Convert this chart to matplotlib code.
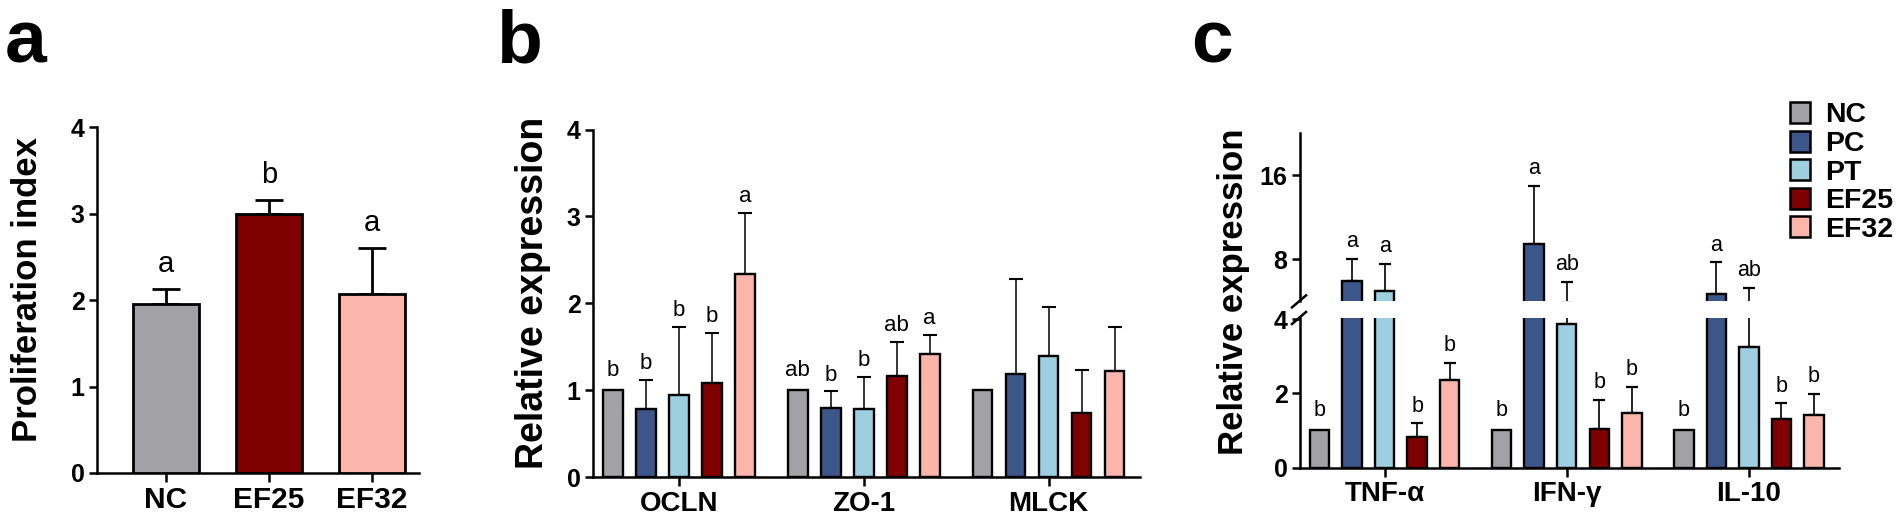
import matplotlib
matplotlib.use("Agg")
import matplotlib.pyplot as plt
from matplotlib.patches import Rectangle
from matplotlib.lines import Line2D
import numpy as np

plt.rcParams['font.family'] = ['Liberation Sans', 'DejaVu Sans']

# ---------------- data ----------------
groups = ['NC', 'PC', 'PT', 'EF25', 'EF32']
colors = ['#a2a2a6', '#3d5689', '#9dcfe1', '#800000', '#fbb5aa']

# panel a
a_groups = ['NC', 'EF25', 'EF32']
a_colors = ['#a2a2a6', '#800000', '#fbb5aa']
a_means = [1.95, 2.99, 2.07]
a_errs = [0.18, 0.17, 0.53]
a_letters = ['a', 'b', 'a']

# panel b  (genes: OCLN, ZO-1, MLCK)
b_genes = ['OCLN', 'ZO-1', 'MLCK']
b_nc = [1.00, 1.00, 1.00]
b_pc = [0.79, 0.80, 1.19]
b_pt = [0.95, 0.79, 1.40]
b_ef25 = [1.08, 1.17, 0.74]
b_ef32 = [2.34, 1.42, 1.22]
b_nc_err = [0.0, 0.0, 0.0]
b_pc_err = [0.33, 0.19, 1.09]
b_pt_err = [0.78, 0.37, 0.56]
b_ef25_err = [0.58, 0.39, 0.50]
b_ef32_err = [0.70, 0.22, 0.51]
b_nc_let = ['b', 'ab', '']
b_pc_let = ['b', 'b', '']
b_pt_let = ['b', 'b', '']
b_ef25_let = ['b', 'ab', '']
b_ef32_let = ['a', 'a', '']

# panel c  (cytokines: TNF-α, IFN-γ, IL-10)
c_genes = ['TNF-α', 'IFN-γ', 'IL-10']
c_nc = [1.00, 1.00, 1.00]
c_pc = [5.95, 9.50, 4.70]
c_pt = [4.95, 3.88, 3.25]
c_ef25 = [0.83, 1.04, 1.30]
c_ef32 = [2.37, 1.46, 1.42]
c_nc_err = [0.0, 0.0, 0.0]
c_pc_err = [2.05, 5.50, 3.00]
c_pt_err = [2.63, 1.99, 1.99]
c_ef25_err = [0.36, 0.78, 0.43]
c_ef32_err = [0.46, 0.71, 0.57]
c_nc_let = ['b', 'b', 'b']
c_pc_let = ['a', 'a', 'a']
c_pt_let = ['a', 'ab', 'ab']
c_ef25_let = ['b', 'b', 'b']
c_ef32_let = ['b', 'b', 'b']

b_means = [b_nc, b_pc, b_pt, b_ef25, b_ef32]
b_errs = [b_nc_err, b_pc_err, b_pt_err, b_ef25_err, b_ef32_err]
b_lets = [b_nc_let, b_pc_let, b_pt_let, b_ef25_let, b_ef32_let]
c_means = [c_nc, c_pc, c_pt, c_ef25, c_ef32]
c_errs = [c_nc_err, c_pc_err, c_pt_err, c_ef25_err, c_ef32_err]
c_lets = [c_nc_let, c_pc_let, c_pt_let, c_ef25_let, c_ef32_let]

# ---------------- layout helpers ----------------
W, H = 1901, 530
fig = plt.figure(figsize=(W / 100, H / 100), dpi=100)


def rect(x0, y0, x1, y1):
    return [x0 / W, 1 - y1 / H, (x1 - x0) / W, (y1 - y0) / H]


LW = 1.8
TICK_FS = 18
XLAB_FS = 20


def style_axis(ax, bottom=True):
    for s in ['top', 'right']:
        ax.spines[s].set_visible(False)
    ax.spines['left'].set_linewidth(LW)
    ax.spines['bottom'].set_linewidth(LW)
    if not bottom:
        ax.spines['bottom'].set_visible(False)
    ax.tick_params(axis='y', direction='out', length=6, width=LW, pad=3,
                   labelsize=TICK_FS)
    ax.tick_params(axis='x', direction='out', length=6.5, width=LW, pad=3,
                   labelsize=XLAB_FS)
    for lab in ax.get_yticklabels() + ax.get_xticklabels():
        lab.set_fontweight('bold')


# ---------------- panel a ----------------
axa = fig.add_axes(rect(97, 127, 419, 473))
xa = np.arange(len(a_groups))
axa.bar(xa, a_means, width=0.64, color=a_colors, edgecolor='black',
        linewidth=2.0, zorder=3)
axa.errorbar(xa, a_means, yerr=[np.zeros(3), a_errs], fmt='none',
             ecolor='black', elinewidth=2.0, capsize=10, capthick=2.0, zorder=2)
for xi, m, e, l in zip(xa, a_means, a_errs, a_letters):
    axa.annotate(l, xy=(xi, m + e), xytext=(0, 8), textcoords='offset points',
                 ha='center', va='bottom', fontsize=21)
axa.set_ylim(0, 4)
axa.set_xlim(-0.67, 2.456)
axa.set_yticks([0, 1, 2, 3, 4])
axa.set_xticks(xa)
axa.set_xticklabels(a_groups)
style_axis(axa)
for lab in axa.get_xticklabels():
    lab.set_fontsize(21.5)
fig.text(28 / W, 1 - 290 / H, 'Proliferation index', rotation=90,
         ha='center', va='center', fontsize=25, fontweight='bold')

# ---------------- grouped panel helpers ----------------
GSP = 5.6
BW = 0.6


def positions(gi, k):
    return gi * GSP + (k - 2)


# ---------------- panel b ----------------
axb = fig.add_axes(rect(593, 129.5, 1140, 477.4))
for k in range(5):
    xs = np.array([positions(g, k) for g in range(3)])
    m = np.array(b_means[k])
    e = np.array(b_errs[k])
    axb.bar(xs, m, width=BW, color=colors[k], edgecolor='black',
            linewidth=1.7, zorder=3)
    mask = e > 0
    if mask.any():
        axb.errorbar(xs[mask], m[mask], yerr=[np.zeros(mask.sum()), e[mask]],
                     fmt='none', ecolor='black', elinewidth=1.1, capsize=5,
                     capthick=1.5, zorder=2)
    for xi, mi, ei, li in zip(xs, m, e, b_lets[k]):
        if li:
            axb.annotate(li, xy=(xi, mi + ei), xytext=(0, 4 if ei > 0 else 7),
                         textcoords='offset points', ha='center', va='bottom',
                         fontsize=16)
axb.set_ylim(0, 4)
axb.set_xlim(-2.6, 13.97)
axb.set_yticks([0, 1, 2, 3, 4])
axb.set_xticks([g * GSP for g in range(3)])
axb.set_xticklabels(b_genes)
style_axis(axb)
fig.text(533 / W, 1 - 293 / H, 'Relative expression', rotation=90,
         ha='center', va='center', fontsize=27, fontweight='bold')

# ---------------- panel c (broken axis) ----------------
axc_lo = fig.add_axes(rect(1300, 318, 1839, 467.5))
axc_hi = fig.add_axes(rect(1300, 133, 1839, 301.4), sharex=axc_lo)
LO_TOP = 4.04
HI_BOT, HI_TOP = 4, 20
for k in range(5):
    xs = np.array([positions(g, k) for g in range(3)])
    m = np.array(c_means[k])
    e = np.array(c_errs[k])
    for ax in (axc_lo, axc_hi):
        ax.bar(xs, m, width=BW, color=colors[k], edgecolor='black',
               linewidth=1.7, zorder=3)
        mask = e > 0
        if mask.any():
            ax.errorbar(xs[mask], m[mask], yerr=[np.zeros(mask.sum()), e[mask]],
                        fmt='none', ecolor='black', elinewidth=1.2, capsize=4.5,
                        capthick=1.6, zorder=2)
    for xi, mi, ei, li in zip(xs, m, e, c_lets[k]):
        top = mi + ei
        ax = axc_hi if top > LO_TOP else axc_lo
        ax.annotate(li, xy=(xi, top), xytext=(0, 5 if ei > 0 else 7),
                    textcoords='offset points', ha='center', va='bottom',
                    fontsize=15.5)
axc_lo.set_ylim(0, LO_TOP)
axc_hi.set_ylim(HI_BOT, HI_TOP)
axc_lo.set_xlim(-2.6, 13.97)
axc_lo.set_yticks([0, 2, 4])
axc_hi.set_yticks([8, 16])
axc_lo.set_xticks([g * GSP for g in range(3)])
axc_lo.set_xticklabels(c_genes)
style_axis(axc_lo)
style_axis(axc_hi, bottom=False)
axc_hi.tick_params(axis='x', bottom=False, labelbottom=False)
axc_hi.patch.set_alpha(0)
axc_lo.patch.set_alpha(0)

# break marks
for yy in (301.4, 318):
    x0, x1 = 1292 / W, 1306 / W
    fig.add_artist(Line2D([x0, x1], [1 - (yy + 6) / H, 1 - (yy - 6) / H],
                          color='black', lw=LW, transform=fig.transFigure))

fig.text(1233 / W, 1 - 292 / H, 'Relative expression', rotation=90,
         ha='center', va='center', fontsize=25, fontweight='bold')

# ---------------- legend ----------------
for i, (g, c) in enumerate(zip(groups, colors)):
    yc = 112.5 + 28.6 * i
    fig.add_artist(Rectangle((1790 / W, 1 - (yc + 10.5) / H), 20 / W, 21 / H,
                             facecolor=c, edgecolor='black', lw=1.8,
                             transform=fig.transFigure))
    fig.text(1825 / W, 1 - yc / H, g, ha='left', va='center_baseline',
             fontsize=20.5, fontweight='bold')

# ---------------- panel labels ----------------
for lab, xp in (('a', 5), ('b', 496), ('c', 1191)):
    fig.text(xp / W, 1 - 62.5 / H, lab, ha='left', va='baseline',
             fontsize=54, fontweight='bold')

fig.savefig('out.png', dpi=100)
